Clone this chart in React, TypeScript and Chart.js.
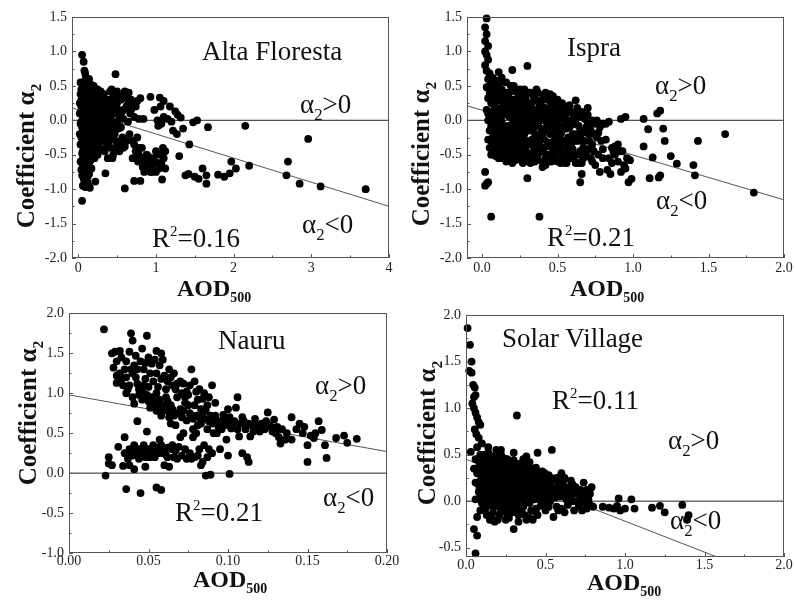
import React, { useEffect, useRef } from 'react';
import { Chart, registerables } from 'chart.js';
Chart.register(...registerables);

// ---------------- DATA ----------------
const altaPoints: [number, number][] = [
  [0.03,0.38],[0.04,0.3],[0.05,0.95],[0.06,0.5],[0.07,0.85],[0.08,0.72],[0.09,0.68],[0.1,0.62],[0.06,0.55],[0.05,0.45],
  [0.07,0.4],[0.04,0.2],[0.05,0.12],[0.06,0.05],[0.04,-0.02],[0.05,-0.1],[0.06,-0.18],[0.04,-0.25],[0.05,-0.33],[0.07,-0.4],
  [0.05,-0.48],[0.06,-0.55],[0.08,-0.62],[0.07,-0.7],[0.08,-0.78],[0.07,-0.85],[0.08,-0.92],[0.09,-0.97],[0.05,-1.17],[0.08,0.35],
  [0.09,0.25],[0.08,0.18],[0.09,0.1],[0.08,0.02],[0.09,-0.05],[0.08,-0.12],[0.1,-0.2],[0.09,-0.28],[0.1,-0.35],[0.09,-0.45],
  [0.11,-0.52],[0.1,-0.6],[0.12,-0.68],[0.11,-0.75],[0.12,-0.82],[0.12,-0.9],[0.13,-0.95],[0.15,-0.98],[0.12,0.55],[0.13,0.48],
  [0.12,0.4],[0.13,0.32],[0.12,0.22],[0.14,0.15],[0.13,0.06],[0.12,-0.02],[0.14,-0.1],[0.13,-0.18],[0.15,-0.26],[0.14,-0.34],
  [0.13,-0.42],[0.15,-0.48],[0.16,0.52],[0.17,0.42],[0.16,0.35],[0.18,0.28],[0.17,0.2],[0.16,0.12],[0.18,0.04],[0.17,-0.05],
  [0.16,-0.12],[0.18,-0.2],[0.17,-0.3],[0.19,-0.38],[0.18,-0.5],[0.16,-0.58],[0.2,0.5],[0.21,0.4],[0.2,0.32],[0.22,0.25],
  [0.21,0.15],[0.2,0.05],[0.22,-0.03],[0.21,-0.12],[0.2,-0.22],[0.23,-0.3],[0.22,-0.45],[0.21,-0.55],[0.22,-0.89],[0.25,0.45],
  [0.26,0.35],[0.24,0.28],[0.25,0.18],[0.27,0.1],[0.25,0.02],[0.26,-0.08],[0.24,-0.15],[0.27,-0.25],[0.26,-0.38],[0.25,-0.5],
  [0.29,0.42],[0.3,0.3],[0.28,0.2],[0.3,0.12],[0.29,0.03],[0.31,-0.05],[0.28,-0.12],[0.3,-0.2],[0.32,-0.3],[0.3,-0.42],
  [0.33,0.38],[0.34,0.22],[0.35,0.1],[0.33,-0.02],[0.36,-0.1],[0.35,-0.25],[0.37,-0.35],[0.35,-0.77],[0.38,0.3],[0.4,0.15],
  [0.39,0.05],[0.41,-0.15],[0.4,-0.3],[0.42,-0.4],[0.43,0.45],[0.45,0.35],[0.44,0.22],[0.46,0.1],[0.45,-0.05],[0.47,-0.2],
  [0.46,-0.28],[0.45,-0.5],[0.44,-0.55],[0.48,0.67],[0.5,0.42],[0.5,0.25],[0.52,0.15],[0.5,-0.02],[0.52,-0.12],[0.5,-0.35],
  [0.53,-0.45],[0.55,0.3],[0.56,0.12],[0.55,-0.1],[0.57,-0.25],[0.58,-0.4],[0.6,0.42],[0.6,0.4],[0.62,0.32],[0.62,0.2],
  [0.6,-0.38],[0.6,-0.99],[0.63,0.4],[0.64,-0.02],[0.65,0.25],[0.66,-0.2],[0.68,0.3],[0.68,0.15],[0.7,-0.3],[0.7,-0.55],
  [0.72,0.05],[0.72,-0.88],[0.74,0.2],[0.75,-0.4],[0.76,-0.25],[0.78,0.02],[0.78,-0.5],[0.8,0.32],[0.8,-0.4],[0.8,-0.88],
  [0.82,-0.6],[0.84,0.02],[0.85,-0.75],[0.86,-0.55],[0.88,-0.5],[0.9,-0.72],[0.92,-0.62],[0.93,0.34],[0.93,-0.75],[0.95,-0.65],
  [0.97,-0.55],[0.98,0.15],[1.0,-0.45],[1.0,-0.75],[1.02,0.0],[1.03,-0.08],[1.05,0.33],[1.05,-0.5],[1.06,0.2],[1.07,-0.05],
  [1.08,-0.86],[1.09,-0.4],[1.1,0.28],[1.1,0.05],[1.1,-0.55],[1.12,-0.7],[1.15,0.02],[1.18,0.2],[1.2,-0.02],[1.22,-0.15],
  [1.25,0.13],[1.27,-0.2],[1.28,0.08],[1.3,-0.52],[1.32,0.04],[1.35,-0.12],[1.38,-0.8],[1.42,-0.78],[1.43,-0.35],[1.48,-0.03],
  [1.5,-0.82],[1.53,0.0],[1.55,-0.85],[1.6,-0.7],[1.65,-0.8],[1.65,-0.92],[1.67,-0.1],[1.8,-0.79],[1.88,-0.82],[1.95,-0.77],
  [1.97,-0.6],[2.03,-0.7],[2.15,-0.08],[2.2,-0.66],[2.68,-0.8],[2.7,-0.6],[2.85,-0.92],[2.96,-0.27],[3.12,-0.96],[3.7,-1.0],
  [0.02,0.1],[0.03,-0.05],[0.02,-0.2],[0.03,-0.35],[0.03,0.55],[0.02,0.25],[0.03,-0.6],[0.04,-0.72],[0.05,-0.8],[0.06,-0.95],
  [0.04,0.45],[0.06,0.3],[0.07,0.22],[0.06,0.12],[0.07,-0.02],[0.07,-0.1],[0.06,-0.25],[0.07,-0.3],[0.06,-0.45],[0.07,-0.55],
  [0.06,-0.65],[0.05,-0.62],[0.1,0.45],[0.11,0.35],[0.1,0.15],[0.11,0.05],[0.1,-0.1],[0.11,-0.25],[0.12,-0.3],[0.11,-0.42],
  [0.13,-0.55],[0.14,-0.62],[0.1,-0.72],[0.1,-0.85],[0.14,0.6],[0.15,0.38],[0.15,0.25],[0.15,0.05],[0.16,-0.05],[0.15,-0.15],
  [0.16,-0.38],[0.17,-0.7],[0.14,-0.78],[0.19,0.48],[0.19,0.3],[0.19,0.1],[0.19,-0.12],[0.2,-0.3],[0.19,-0.45],[0.23,0.45],
  [0.23,0.2],[0.23,0.05],[0.24,-0.05],[0.23,-0.2],[0.24,-0.38],[0.27,0.3],[0.28,0.05],[0.27,-0.05],[0.28,-0.3],[0.32,0.22],
  [0.32,0.05],[0.31,-0.12],[0.33,-0.2],[0.34,-0.45],[0.36,0.25],[0.37,0.15],[0.38,-0.05],[0.39,-0.2],[0.38,-0.55],[0.41,0.42],
  [0.42,0.28],[0.42,0.02],[0.43,-0.1],[0.43,-0.25],[0.47,0.3],[0.48,0.15],[0.48,-0.1],[0.49,-0.4],[0.52,0.35],[0.53,0.05],
  [0.54,-0.3],[0.56,-0.35],[0.58,0.15],[0.58,0.02],[0.62,-0.3],[0.65,0.4],[0.67,0.1],[0.7,0.22],[0.72,-0.35],[0.74,-0.45],
  [0.76,0.28],[0.77,-0.6],[0.82,-0.4],[0.83,-0.68],[0.86,-0.68],[0.88,-0.62],[0.9,-0.52],[0.95,-0.75],[0.98,-0.62],[1.02,-0.62],
  [1.04,-0.7],[1.07,-0.62],[1.12,-0.45],
];
const altaFitX = [-0.08, 4.0];
const altaFitY = [0.18, -1.25];

const ispraPoints: [number, number][] = [
  [0.03,1.48],[0.02,1.35],[0.03,1.25],[0.02,1.15],[0.04,1.08],[0.02,1.0],[0.03,0.95],[0.04,0.88],[0.02,0.8],[0.03,0.72],
  [0.05,0.68],[0.04,0.6],[0.06,0.55],[0.03,0.48],[0.05,0.4],[0.04,0.32],[0.06,0.25],[0.03,0.15],[0.05,0.08],[0.04,0.0],
  [0.06,-0.08],[0.04,-0.28],[0.06,-0.3],[0.02,-0.95],[0.03,-0.92],[0.04,-0.9],[0.02,-0.75],[0.06,-1.4],
  [0.07,0.62],[0.08,0.5],[0.09,0.42],[0.08,0.35],[0.1,0.28],[0.09,0.18],[0.08,0.1],[0.1,0.02],[0.09,-0.1],[0.08,-0.2],
  [0.1,-0.3],[0.09,-0.38],[0.11,0.7],[0.12,0.55],[0.13,0.45],[0.12,0.3],[0.14,0.2],[0.12,0.1],[0.13,-0.02],[0.12,-0.15],
  [0.14,-0.25],[0.13,-0.35],[0.12,-0.45],[0.15,-0.5],[0.16,0.4],[0.17,0.25],[0.16,0.15],[0.18,0.05],[0.17,-0.08],[0.16,-0.2],
  [0.18,-0.3],[0.17,-0.42],[0.19,-0.55],[0.2,0.73],[0.2,0.45],[0.21,0.3],[0.22,0.12],[0.2,-0.05],[0.22,-0.15],[0.21,-0.28],
  [0.23,-0.4],[0.2,-0.62],[0.24,0.38],[0.25,0.22],[0.26,0.05],[0.24,-0.1],[0.26,-0.22],[0.25,-0.35],[0.27,-0.48],[0.26,-0.58],
  [0.28,0.45],[0.3,0.79],[0.29,0.3],[0.3,0.15],[0.29,-0.02],[0.31,-0.15],[0.3,-0.3],[0.29,-0.45],[0.3,-0.84],[0.32,0.4],
  [0.33,0.25],[0.34,0.08],[0.33,-0.08],[0.35,-0.2],[0.34,-0.38],[0.33,-0.55],[0.36,0.45],[0.37,0.28],[0.38,0.1],[0.37,-0.05],
  [0.39,-0.25],[0.38,-0.42],[0.4,-0.6],[0.4,-0.68],[0.38,-1.4],[0.41,0.35],[0.42,0.18],[0.43,0.02],[0.42,-0.15],[0.44,-0.32],
  [0.43,-0.5],[0.45,0.38],[0.46,0.22],[0.47,0.05],[0.46,-0.1],[0.48,-0.28],[0.47,-0.45],[0.46,-0.6],[0.5,0.3],[0.51,0.12],
  [0.5,-0.05],[0.52,-0.2],[0.51,-0.38],[0.53,-0.55],[0.55,0.2],[0.55,0.05],[0.56,-0.12],[0.54,-0.3],[0.57,-0.45],[0.56,-0.62],
  [0.58,0.22],[0.6,0.0],[0.6,-0.2],[0.59,-0.35],[0.61,-0.52],[0.62,0.29],[0.63,0.1],[0.64,-0.08],[0.63,-0.3],[0.65,-0.45],
  [0.64,-0.62],[0.65,-0.9],[0.67,0.05],[0.68,-0.18],[0.67,-0.4],[0.66,-0.78],[0.7,0.18],[0.7,-0.05],[0.71,-0.3],[0.72,-0.55],
  [0.74,-0.2],[0.75,-0.65],[0.73,0.0],[0.78,-0.75],[0.8,-0.05],[0.8,-0.55],[0.82,-0.28],[0.83,-0.72],[0.84,-0.02],[0.85,-0.78],
  [0.86,-0.4],[0.87,-0.45],[0.88,-0.5],[0.9,-0.35],[0.92,0.02],[0.92,-0.75],[0.93,-0.45],[0.95,0.05],[0.95,-0.7],[0.96,-0.55],
  [0.97,-0.9],[0.99,-0.85],[1.07,0.02],[1.07,-0.38],[1.1,-0.13],[1.11,-0.84],[1.13,-0.54],[1.16,0.1],[1.18,0.14],[1.17,-0.83],
  [1.18,-0.8],[1.2,-0.12],[1.21,-0.3],[1.25,-0.52],[1.29,-0.63],[1.4,-0.65],[1.41,-0.8],[1.43,-0.3],[1.61,-0.2],[1.8,-1.05],
  [0.05,0.5],[0.06,0.42],[0.07,0.3],[0.06,0.12],[0.07,0.02],[0.05,-0.15],[0.07,-0.25],[0.06,-0.4],[0.08,-0.45],[0.07,0.45],
  [0.09,0.58],[0.1,0.48],[0.11,0.38],[0.1,0.12],[0.11,-0.05],[0.11,-0.2],[0.1,-0.45],[0.11,-0.55],[0.13,0.62],[0.14,0.38],
  [0.14,0.08],[0.15,0.28],[0.15,-0.1],[0.14,-0.42],[0.15,-0.3],[0.16,0.55],[0.17,0.35],[0.18,0.18],[0.18,-0.12],[0.19,-0.22],
  [0.18,-0.48],[0.16,-0.6],[0.19,0.5],[0.2,0.2],[0.21,0.05],[0.22,-0.35],[0.21,-0.5],[0.22,0.42],[0.23,0.28],[0.24,0.15],
  [0.23,-0.02],[0.24,-0.25],[0.23,-0.55],[0.25,0.45],[0.26,0.32],[0.27,0.12],[0.26,-0.05],[0.27,-0.3],[0.28,-0.42],[0.27,-0.62],
  [0.28,0.22],[0.29,0.08],[0.28,-0.2],[0.3,-0.55],[0.31,0.4],[0.31,0.22],[0.32,0.05],[0.31,-0.35],[0.32,-0.48],[0.32,-0.62],
  [0.34,0.35],[0.35,0.15],[0.35,-0.02],[0.36,-0.3],[0.35,-0.45],[0.36,-0.58],[0.37,0.4],[0.38,0.2],[0.39,0.0],[0.39,-0.12],
  [0.37,-0.5],[0.4,0.3],[0.41,0.1],[0.4,-0.2],[0.41,-0.4],[0.42,-0.55],[0.42,-0.65],[0.43,0.3],[0.44,0.12],[0.44,-0.05],
  [0.45,-0.2],[0.44,-0.6],[0.45,0.28],[0.47,0.35],[0.48,0.12],[0.48,-0.02],[0.49,-0.15],[0.49,-0.38],[0.48,-0.55],[0.5,0.2],
  [0.51,0.02],[0.52,-0.1],[0.51,-0.28],[0.5,-0.48],[0.52,-0.62],[0.53,0.25],[0.54,0.1],[0.53,-0.15],[0.55,-0.38],[0.54,-0.5],
  [0.56,0.15],[0.57,0.0],[0.57,-0.25],[0.58,-0.55],[0.58,-0.1],[0.59,0.12],[0.6,-0.42],[0.61,-0.05],[0.62,-0.2],[0.62,-0.62],
  [0.63,0.18],[0.65,-0.15],[0.66,0.12],[0.66,-0.3],[0.67,-0.55],[0.68,0.02],[0.69,-0.1],[0.7,-0.42],[0.72,-0.15],[0.73,-0.35],
  [0.74,-0.05],[0.76,-0.25],[0.77,-0.5],[0.78,-0.1],[0.79,-0.3],[0.8,-0.42],[0.82,-0.05],[0.84,-0.55],[0.86,-0.62],[0.88,-0.38],
  [0.9,-0.6],[0.91,-0.45],[0.94,-0.65],[0.98,-0.58],
  [0.06,0.35],[0.08,0.22],[0.09,0.0],[0.1,-0.15],[0.08,-0.32],[0.09,-0.52],[0.12,0.42],[0.13,0.18],[0.12,-0.08],[0.13,-0.28],
  [0.14,-0.55],[0.16,0.3],[0.17,0.08],[0.16,-0.12],[0.17,-0.35],[0.18,0.4],[0.19,0.12],[0.2,-0.12],[0.19,-0.4],[0.21,0.5],
  [0.22,0.2],[0.21,-0.2],[0.22,-0.58],[0.24,0.05],[0.25,-0.2],[0.24,-0.45],[0.26,0.25],[0.27,-0.12],[0.26,-0.4],[0.29,0.38],
  [0.3,0.0],[0.3,-0.1],[0.29,-0.32],[0.31,-0.6],[0.33,0.15],[0.33,-0.28],[0.34,-0.12],[0.35,-0.6],[0.35,0.32],[0.36,0.05],
  [0.37,-0.22],[0.38,-0.32],[0.39,0.22],[0.4,0.05],[0.41,-0.28],[0.4,-0.45],[0.42,0.4],[0.43,-0.05],[0.43,-0.38],[0.45,0.15],
  [0.46,-0.35],[0.45,-0.52],[0.47,0.25],[0.49,0.05],[0.49,-0.25],[0.5,-0.6],[0.52,0.05],[0.52,-0.42],[0.53,-0.3],[0.54,0.2],
  [0.55,-0.05],[0.55,-0.62],[0.57,0.12],[0.58,-0.32],[0.59,-0.48],[0.6,0.1],[0.61,-0.3],[0.62,-0.05],[0.63,-0.5],[0.64,0.05],
  [0.65,-0.25],[0.66,-0.62],[0.68,-0.3],[0.69,-0.5],[0.7,0.08],[0.71,-0.2],[0.72,-0.05],[0.73,-0.6],[0.74,-0.45],[0.76,0.0],
  [0.77,-0.18],[0.06,-0.5],[0.05,-0.4],[0.04,0.1],
];
const ispraFitX = [-0.1, 2.0];
const ispraFitY = [0.21, -1.155];

const nauruPoints: [number, number][] = [
  [0.022,1.8],[0.039,1.75],[0.049,1.72],[0.04,1.66],[0.046,1.56],[0.055,1.53],[0.058,1.5],[0.027,1.5],[0.029,1.52],[0.032,1.53],
  [0.038,1.52],[0.042,1.47],[0.045,1.4],[0.05,1.45],[0.052,1.37],[0.047,1.3],[0.035,1.3],[0.03,1.22],[0.03,1.13],[0.028,1.32],
  [0.033,1.18],[0.036,1.2],[0.04,1.25],[0.038,1.1],[0.043,1.12],[0.046,1.02],[0.048,1.18],[0.05,1.08],[0.053,1.15],[0.055,1.25],
  [0.057,1.35],[0.059,1.42],[0.06,1.22],[0.062,1.15],[0.063,1.3],[0.065,1.1],[0.067,1.05],[0.07,1.15],[0.072,1.12],[0.074,1.02],
  [0.077,1.3],[0.08,1.02],[0.082,1.05],[0.084,0.93],[0.088,0.95],[0.09,1.1],[0.036,1.0],[0.04,0.95],[0.041,0.87],[0.044,1.05],
  [0.046,0.92],[0.05,0.9],[0.052,0.95],[0.053,0.85],[0.055,0.78],[0.057,0.92],[0.06,0.85],[0.062,0.78],[0.064,0.85],[0.066,0.72],
  [0.068,0.95],[0.07,0.8],[0.071,0.7],[0.073,0.88],[0.074,0.66],[0.076,0.75],[0.078,0.68],[0.079,0.85],[0.08,0.72],[0.081,0.6],
  [0.083,0.62],[0.085,0.68],[0.086,0.78],[0.087,0.55],[0.089,0.72],[0.09,0.62],[0.091,0.5],[0.092,0.72],[0.094,0.58],[0.095,0.65],
  [0.097,0.66],[0.098,0.6],[0.1,0.62],[0.1,0.8],[0.101,0.7],[0.102,0.56],[0.104,0.65],[0.105,0.82],[0.106,0.95],[0.107,0.46],
  [0.108,0.62],[0.11,0.65],[0.111,0.55],[0.112,0.6],[0.114,0.46],[0.115,0.6],[0.117,0.68],[0.118,0.55],[0.12,0.52],[0.121,0.62],
  [0.122,0.58],[0.124,0.65],[0.125,0.76],[0.127,0.58],[0.129,0.67],[0.13,0.5],[0.132,0.45],[0.133,0.37],[0.134,0.55],[0.136,0.42],
  [0.14,0.7],[0.14,0.42],[0.145,0.62],[0.147,0.5],[0.15,0.35],[0.152,0.47],[0.154,0.44],[0.155,0.5],[0.157,0.65],[0.159,0.54],
  [0.161,0.35],[0.162,0.19],[0.15,0.14],[0.168,0.44],[0.173,0.47],[0.175,0.38],[0.181,0.43],[0.113,0.14],[0.112,0.2],[0.109,0.25],
  [0.1,0.22],[0.099,0.42],[0.095,0.3],[0.093,0.5],[0.09,0.25],[0.088,0.3],[0.087,0.2],[0.085,0.35],[0.083,0.1],[0.084,0.14],
  [0.086,-0.03],[0.089,-0.02],[0.101,-0.01],[0.036,-0.2],[0.045,-0.25],[0.055,-0.18],[0.058,-0.21],[0.023,-0.03],[0.025,0.2],[0.025,0.12],
  [0.027,0.1],[0.031,0.33],[0.034,0.09],[0.035,0.45],[0.038,0.1],[0.038,0.3],[0.04,0.22],[0.041,0.05],[0.041,0.35],[0.042,0.25],
  [0.043,0.65],[0.044,0.18],[0.045,0.3],[0.046,0.22],[0.047,0.35],[0.048,0.08],[0.049,0.52],[0.05,0.3],[0.051,0.2],[0.052,0.25],
  [0.053,0.35],[0.054,0.2],[0.055,0.3],[0.056,0.25],[0.057,0.42],[0.058,0.35],[0.06,0.1],[0.06,0.28],[0.061,0.23],[0.062,0.32],
  [0.063,0.08],[0.064,0.62],[0.065,0.3],[0.066,0.2],[0.068,0.18],[0.069,0.33],[0.07,0.45],[0.072,0.5],[0.074,0.18],[0.076,0.25],
  [0.078,0.45],[0.08,0.5],[0.082,0.3],[0.079,0.2],[0.067,0.6],[0.058,0.72],[0.062,0.9],[0.055,1.0],[0.075,0.98],[0.078,0.55],
  [0.083,0.8],[0.092,0.88],[0.097,0.73],
  [0.03,1.4],[0.033,1.45],[0.036,1.4],[0.041,1.35],[0.043,1.3],[0.048,1.38],[0.051,1.25],[0.054,1.42],[0.056,1.08],[0.058,1.18],
  [0.061,1.05],[0.064,1.2],[0.066,1.25],[0.068,1.12],[0.071,1.0],[0.073,0.95],[0.076,1.1],[0.079,1.15],[0.081,0.92],[0.085,1.0],
  [0.087,0.85],[0.032,1.25],[0.034,1.1],[0.037,1.05],[0.039,1.3],[0.042,1.2],[0.044,0.98],[0.047,1.1],[0.049,0.98],[0.051,0.82],
  [0.054,0.9],[0.056,0.85],[0.059,0.78],[0.061,0.95],[0.063,0.7],[0.065,0.8],[0.069,0.75],[0.072,0.78],[0.075,0.85],[0.077,0.72],
  [0.082,0.7],[0.084,0.75],[0.088,0.65],[0.091,0.68],[0.093,0.62],[0.096,0.55],[0.099,0.68],[0.103,0.6],[0.106,0.55],[0.109,0.7],
  [0.113,0.62],[0.116,0.52],[0.119,0.6],[0.123,0.55],[0.126,0.6],[0.128,0.52],[0.131,0.58],[0.137,0.5],[0.143,0.55],[0.148,0.58],
  [0.035,0.25],[0.037,0.18],[0.039,0.27],[0.043,0.3],[0.047,0.28],[0.05,0.22],[0.053,0.28],[0.056,0.32],[0.059,0.25],[0.062,0.2],
  [0.065,0.35],[0.067,0.28],[0.071,0.22],[0.073,0.3],[0.077,0.18],[0.081,0.22],[0.044,0.25],[0.048,0.2],
];
const nauruFitX = [0.0, 0.2];
const nauruFitY = [0.98, 0.27];

const solarPoints: [number, number][] = [
  [0.01,1.86],[0.025,1.68],[0.035,1.5],[0.02,1.4],[0.035,1.38],[0.045,1.25],[0.055,1.22],[0.05,1.12],[0.06,1.14],[0.04,1.05],
  [0.05,1.0],[0.06,0.95],[0.07,0.9],[0.08,0.85],[0.09,0.82],[0.055,0.77],[0.065,0.72],[0.08,0.68],[0.1,0.62],[0.03,0.53],
  [0.07,0.58],[0.09,0.5],[0.06,0.45],[0.05,0.35],[0.07,0.3],[0.06,0.2],[0.08,0.1],[0.06,0.02],[0.07,-0.17],[0.05,-0.3],
  [0.07,-0.37],[0.06,-0.56],
  [0.1,0.45],[0.11,0.38],[0.1,0.3],[0.12,0.22],[0.11,0.15],[0.1,0.08],[0.12,0.0],[0.11,-0.08],[0.13,-0.15],
  [0.14,0.52],[0.15,0.44],[0.14,0.36],[0.16,0.28],[0.15,0.2],[0.14,0.12],[0.16,0.05],[0.15,-0.03],[0.15,-0.2],[0.17,-0.12],
  [0.18,0.48],[0.19,0.4],[0.18,0.32],[0.2,0.25],[0.19,0.17],[0.18,0.1],[0.2,0.02],[0.19,-0.05],[0.18,-0.22],[0.21,-0.15],
  [0.22,0.5],[0.23,0.42],[0.22,0.35],[0.24,0.28],[0.23,0.2],[0.22,0.12],[0.24,0.04],[0.23,-0.04],[0.25,-0.2],[0.25,-0.12],
  [0.26,0.45],[0.27,0.38],[0.26,0.3],[0.28,0.24],[0.27,0.16],[0.26,0.08],[0.28,0.0],[0.27,-0.08],[0.29,-0.12],
  [0.3,0.44],[0.31,0.36],[0.3,0.28],[0.32,0.2],[0.31,0.12],[0.3,0.05],[0.32,-0.04],[0.3,-0.3],[0.32,0.92],[0.33,-0.15],
  [0.34,0.4],[0.35,0.32],[0.34,0.25],[0.36,0.18],[0.35,0.1],[0.34,0.02],[0.36,-0.06],[0.37,-0.15],
  [0.38,0.48],[0.39,0.38],[0.38,0.3],[0.4,0.22],[0.39,0.14],[0.38,0.06],[0.4,-0.02],[0.38,-0.2],[0.41,-0.1],
  [0.42,0.35],[0.43,0.26],[0.42,0.18],[0.44,0.1],[0.43,0.02],[0.42,-0.2],[0.45,0.52],[0.44,-0.08],
  [0.46,0.3],[0.47,0.2],[0.46,0.12],[0.48,0.04],[0.47,-0.05],[0.49,0.25],
  [0.5,0.22],[0.51,0.12],[0.5,0.04],[0.52,-0.06],[0.53,0.2],[0.54,0.55],[0.55,-0.17],[0.55,0.1],
  [0.57,0.25],[0.58,0.15],[0.59,0.05],[0.6,0.3],[0.61,0.12],[0.6,-0.08],[0.62,0.25],[0.63,0.02],
  [0.65,0.15],[0.66,0.05],[0.67,0.18],[0.68,-0.1],[0.69,0.08],[0.7,0.0],[0.72,0.12],[0.73,-0.1],[0.74,0.2],[0.75,0.05],
  [0.76,-0.08],[0.77,0.02],[0.78,0.08],[0.8,-0.06],
  [0.86,-0.06],[0.9,-0.07],[0.93,-0.08],[0.95,-0.05],[0.96,0.03],[0.97,-0.1],[1.0,-0.08],[1.04,0.02],[1.06,-0.08],[1.17,-0.07],
  [1.22,-0.05],[1.25,-0.12],[1.36,-0.04],[1.39,-0.2],[1.4,-0.15],
  [0.08,0.45],[0.09,0.38],[0.08,0.3],[0.09,0.22],[0.08,0.18],[0.09,0.05],[0.1,-0.02],[0.09,-0.1],[0.12,0.5],[0.12,0.42],
  [0.13,0.32],[0.12,0.28],[0.13,0.18],[0.12,0.08],[0.13,0.04],[0.14,-0.05],[0.12,-0.1],[0.16,0.48],[0.17,0.4],[0.16,0.34],
  [0.17,0.25],[0.16,0.18],[0.17,0.1],[0.16,0.0],[0.17,-0.05],[0.2,0.45],[0.21,0.36],[0.2,0.3],[0.21,0.2],[0.2,0.12],
  [0.21,0.06],[0.2,-0.05],[0.22,-0.1],[0.24,0.46],[0.25,0.38],[0.24,0.32],[0.25,0.24],[0.24,0.16],[0.25,0.08],[0.24,-0.02],
  [0.26,-0.05],[0.28,0.42],[0.29,0.34],[0.28,0.28],[0.29,0.2],[0.28,0.12],[0.29,0.04],[0.28,-0.05],[0.32,0.4],[0.33,0.32],
  [0.32,0.26],[0.33,0.16],[0.32,0.08],[0.33,0.02],[0.31,-0.1],[0.36,0.38],[0.37,0.3],[0.36,0.22],[0.37,0.12],[0.36,0.06],
  [0.37,-0.02],[0.35,-0.1],[0.4,0.42],[0.41,0.32],[0.4,0.26],[0.41,0.18],[0.4,0.1],[0.41,0.03],[0.44,0.36],[0.45,0.22],
  [0.44,0.16],[0.45,0.06],[0.44,-0.12],[0.46,0.02],[0.48,0.32],[0.48,0.16],[0.49,0.1],[0.49,-0.02],[0.5,-0.1],[0.51,0.18],
  [0.52,0.28],[0.52,0.08],[0.53,0.0],[0.54,0.14],[0.56,0.22],[0.56,0.04],[0.57,-0.06],[0.58,0.08],[0.59,0.18],[0.61,0.2],
  [0.62,0.08],[0.64,0.12],[0.64,-0.04],[0.66,0.22],[0.68,0.12],[0.7,0.1],[0.71,-0.05],[0.73,0.06],[0.76,0.12],[0.78,-0.04],
  [0.79,0.15],[0.62,-0.12],[0.58,-0.1],[0.45,-0.15],[0.4,-0.18],[0.33,-0.22],[0.27,-0.18],[0.2,-0.2],[0.16,-0.15],[0.22,0.55],
  [0.3,0.52],[0.36,0.45],[0.19,0.55],[0.14,0.58],
  [0.085,0.4],[0.095,0.3],[0.085,0.14],[0.095,0.14],[0.105,0.22],[0.105,0.36],[0.115,0.28],[0.115,0.08],[0.125,0.35],[0.125,0.14],
  [0.135,0.25],[0.135,0.42],[0.145,0.28],[0.145,0.05],[0.155,0.35],[0.155,0.12],[0.165,0.42],[0.165,0.22],[0.175,0.3],[0.175,0.04],
  [0.185,0.38],[0.185,0.2],[0.195,0.3],[0.195,0.08],[0.205,0.38],[0.215,0.28],[0.215,0.14],[0.225,0.05],[0.235,0.35],[0.235,0.12],
  [0.245,0.22],[0.255,0.3],[0.255,0.15],[0.265,0.38],[0.265,0.02],[0.275,0.22],[0.285,0.35],[0.285,0.08],[0.295,0.26],[0.305,0.36],
  [0.305,0.16],[0.315,0.28],[0.315,0.0],[0.325,0.38],[0.325,0.1],[0.335,0.24],[0.345,0.32],[0.345,0.08],[0.355,0.2],[0.365,0.3],
  [0.365,0.0],[0.375,0.22],[0.385,0.38],[0.385,0.1],[0.395,0.3],[0.405,0.18],[0.415,0.25],[0.415,0.08],[0.425,0.1],[0.435,0.3],
  [0.445,0.22],[0.455,0.12],[0.465,0.26],[0.475,0.1],[0.485,0.22],[0.495,0.3],[0.505,0.16],[0.515,0.06],[0.525,0.14],[0.535,0.25],
  [0.545,0.06],[0.565,0.14],[0.585,0.22],[0.6,0.15],[0.62,0.15],[0.65,0.08],[0.67,0.0],[0.69,0.15],[0.72,0.02],[0.75,-0.02],
];
const solarFitX = [0.0, 2.0];
const solarFitY = [0.45, -0.88];

// ---------------- RENDERING ----------------
const SERIF = "'Liberation Serif', 'Times New Roman', serif";

const framePlugin = {
  id: 'frameTicks',
  afterDatasetsDraw(chart: any) {
    const { ctx, chartArea: a, scales } = chart;
    ctx.save();
    ctx.strokeStyle = '#555';
    ctx.lineWidth = 1;
    ctx.strokeRect(Math.round(a.left) + 0.5, Math.round(a.top) + 0.5, Math.round(a.right - a.left) - 1, Math.round(a.bottom - a.top) - 1);
    const drawTicks = (scale: any, horizontal: boolean) => {
      const vals: number[] = scale.ticks.map((t: any) => t.value);
      if (vals.length < 2) return;
      const step = vals[1] - vals[0];
      const minors: number[] = [];
      if (vals[0] - step / 2 >= scale.min - 1e-9) minors.push(vals[0] - step / 2);
      vals.forEach((v) => { if (v + step / 2 <= scale.max + 1e-9) minors.push(v + step / 2); });
      const line = (v: number, len: number) => {
        const p = Math.round(scale.getPixelForValue(v)) + 0.5;
        ctx.beginPath();
        if (horizontal) { ctx.moveTo(p, a.bottom); ctx.lineTo(p, a.bottom - len); }
        else { ctx.moveTo(a.left, p); ctx.lineTo(a.left + len, p); }
        ctx.stroke();
      };
      vals.forEach((v) => line(v, 4));
      minors.forEach((v) => line(v, 2.5));
    };
    drawTicks(scales.x, true);
    drawTicks(scales.y, false);
    ctx.restore();
  },
};

type Spec = {
  left: number; top: number; w: number; h: number;
  aLeft: number; aTop: number; aRight: number; aBottom: number; xPad: number;
  xMin: number; xMax: number; xStep: number; xDec: number;
  yMin: number; yMax: number; yStep: number;
  points: [number, number][]; fitX: number[]; fitY: number[];
};

function Panel({ s }: { s: Spec }) {
  const ref = useRef<HTMLCanvasElement>(null);
  useEffect(() => {
    const chart = new Chart(ref.current!, {
      type: 'scatter',
      data: {
        datasets: [
          {
            type: 'scatter',
            data: s.points.map(([x, y]) => ({ x, y })),
            backgroundColor: '#000',
            borderColor: '#000',
            pointRadius: 3.9,
            borderWidth: 0,
            clip: false,
          } as any,
          {
            type: 'line',
            data: [{ x: s.xMin, y: 0 }, { x: s.xMax, y: 0 }],
            borderColor: '#222',
            borderWidth: 1,
            pointRadius: 0,
          } as any,
          {
            type: 'line',
            data: s.fitX.map((x, i) => ({ x, y: s.fitY[i] })),
            borderColor: '#555',
            borderWidth: 1,
            pointRadius: 0,
          } as any,
        ],
      },
      options: {
        responsive: false,
        animation: false,
        events: [],
        layout: { padding: { left: 0, top: s.aTop, right: s.w - s.aRight, bottom: 0 } },
        plugins: { legend: { display: false }, tooltip: { enabled: false } },
        scales: {
          x: {
            type: 'linear',
            min: s.xMin, max: s.xMax,
            grid: { display: false, drawTicks: false },
            border: { display: false },
            ticks: {
              stepSize: s.xStep, includeBounds: false, padding: s.xPad, color: '#222', maxRotation: 0,
              font: { family: SERIF, size: 14 },
              callback: (v: any) => Number(v).toFixed(s.xDec),
            },
            afterFit: (sc: any) => { sc.height = s.h - s.aBottom; },
          },
          y: {
            type: 'linear',
            min: s.yMin, max: s.yMax,
            grid: { display: false, drawTicks: false },
            border: { display: false },
            ticks: {
              stepSize: s.yStep, includeBounds: false, padding: 5, color: '#222',
              font: { family: SERIF, size: 14 },
              callback: (v: any) => Number(v).toFixed(1),
            },
            afterFit: (sc: any) => { sc.width = s.aLeft; },
          },
        },
      } as any,
      plugins: [framePlugin],
    });
    return () => chart.destroy();
  }, []);
  return (
    <canvas
      ref={ref}
      width={s.w}
      height={s.h}
      style={{ position: 'absolute', left: s.left, top: s.top, width: s.w, height: s.h }}
    />
  );
}

const specs: Spec[] = [
  { left: 0, top: 0, w: 397, h: 300, aLeft: 72, aTop: 17, aRight: 389, aBottom: 258, xPad: 2,
    xMin: -0.08, xMax: 4, xStep: 1, xDec: 0, yMin: -2, yMax: 1.5, yStep: 0.5,
    points: altaPoints, fitX: altaFitX, fitY: altaFitY },
  { left: 397, top: 0, w: 398, h: 300, aLeft: 70, aTop: 17, aRight: 387, aBottom: 258, xPad: 2,
    xMin: -0.1, xMax: 2, xStep: 0.5, xDec: 1, yMin: -2, yMax: 1.5, yStep: 0.5,
    points: ispraPoints, fitX: ispraFitX, fitY: ispraFitY },
  { left: 0, top: 300, w: 400, h: 312, aLeft: 69, aTop: 12, aRight: 387, aBottom: 253, xPad: 0,
    xMin: 0, xMax: 0.2, xStep: 0.05, xDec: 2, yMin: -1, yMax: 2, yStep: 0.5,
    points: nauruPoints, fitX: nauruFitX, fitY: nauruFitY },
  { left: 395, top: 300, w: 400, h: 312, aLeft: 71, aTop: 15, aRight: 389, aBottom: 257, xPad: 0,
    xMin: 0, xMax: 2, xStep: 0.5, xDec: 1, yMin: -0.6, yMax: 2, yStep: 0.5,
    points: solarPoints, fitX: solarFitX, fitY: solarFitY },
];

const Sub = ({ c }: { c: string }) => (
  <span style={{ fontSize: '0.62em', position: 'relative', top: '0.42em' }}>{c}</span>
);
const Sup = ({ c }: { c: string }) => (
  <span style={{ fontSize: '0.55em', position: 'relative', top: '-0.75em' }}>{c}</span>
);

const T = ({ x, y, size = 27, bold = false, children }: any) => (
  <div style={{ position: 'absolute', left: x, top: y, fontFamily: SERIF, fontSize: size, lineHeight: 1,
    fontWeight: bold ? 'bold' : 'normal', whiteSpace: 'nowrap', color: '#111' }}>{children}</div>
);

const YTitle = ({ cx, cy }: { cx: number; cy: number }) => (
  <div style={{ position: 'absolute', left: cx, top: cy, transform: 'translate(-50%,-50%) rotate(-90deg)',
    fontFamily: SERIF, fontSize: 25, fontWeight: 'bold', lineHeight: 1, whiteSpace: 'nowrap', color: '#111' }}>
    Coefficient α<Sub c="2" />
  </div>
);

const XTitle = ({ x, y }: { x: number; y: number }) => (
  <div style={{ position: 'absolute', left: x, top: y, fontFamily: SERIF, fontSize: 24, fontWeight: 'bold',
    lineHeight: 1, whiteSpace: 'nowrap', color: '#111' }}>
    AOD<span style={{ fontSize: '0.58em', position: 'relative', top: '0.45em' }}>500</span>
  </div>
);

export default function App() {
  return (
    <div style={{ position: 'absolute', left: 0, top: 0, width: 795, height: 612, background: '#fff', overflow: 'hidden' }}>
      {specs.map((s, i) => <Panel key={i} s={s} />)}

      <YTitle cx={25} cy={156} />
      <YTitle cx={420} cy={154} />
      <YTitle cx={27} cy={413} />
      <YTitle cx={426} cy={433} />

      <XTitle x={177} y={276} />
      <XTitle x={570} y={276} />
      <XTitle x={193} y={567} />
      <XTitle x={587} y={570} />

      <T x={202} y={38}>Alta Floresta</T>
      <T x={300} y={91}>α<Sub c="2" />&gt;0</T>
      <T x={302} y={211}>α<Sub c="2" />&lt;0</T>
      <T x={152} y={225}>R<Sup c="2" />=0.16</T>

      <T x={567} y={34}>Ispra</T>
      <T x={655} y={72}>α<Sub c="2" />&gt;0</T>
      <T x={656} y={187}>α<Sub c="2" />&lt;0</T>
      <T x={547} y={224}>R<Sup c="2" />=0.21</T>

      <T x={218} y={327}>Nauru</T>
      <T x={315} y={372}>α<Sub c="2" />&gt;0</T>
      <T x={323} y={484}>α<Sub c="2" />&lt;0</T>
      <T x={175} y={499}>R<Sup c="2" />=0.21</T>

      <T x={502} y={325}>Solar Village</T>
      <T x={552} y={387}>R<Sup c="2" />=0.11</T>
      <T x={668} y={427}>α<Sub c="2" />&gt;0</T>
      <T x={670} y={507}>α<Sub c="2" />&lt;0</T>
    </div>
  );
}
